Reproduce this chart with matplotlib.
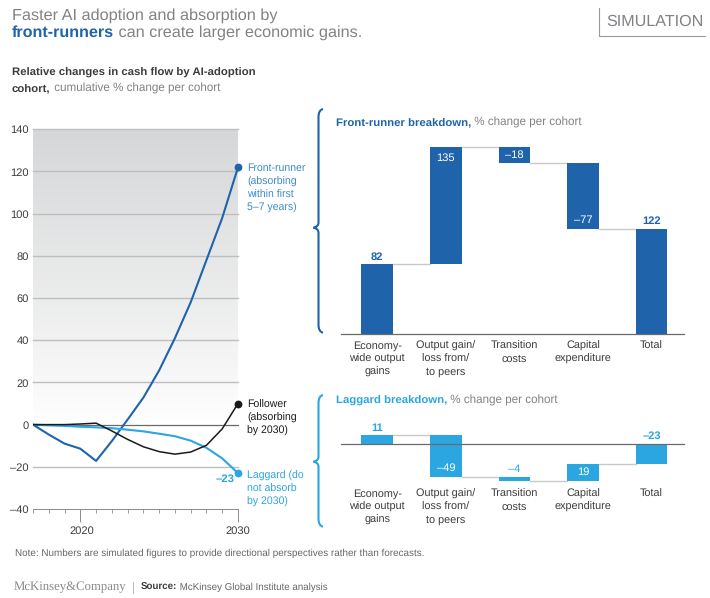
import numpy as np
import matplotlib
matplotlib.use('Agg')
import matplotlib.pyplot as plt
from matplotlib.path import Path
from matplotlib.patches import PathPatch

plt.rcParams['font.family'] = ['Liberation Sans', 'DejaVu Sans']
plt.rcParams['text.hinting'] = 'no_hinting'
plt.rcParams['text.hinting_factor'] = 8

# line chart data
years = [2017, 2018, 2019, 2020, 2021, 2022, 2023, 2024, 2025, 2026, 2027, 2028, 2029, 2030]
front_runner = [0, -4.7, -9, -11.4, -17.2, -7.8, 2.4, 12.8, 25.7, 41, 58, 78, 98, 122]
follower = [0, 0, 0, 0.3, 0.7, -3, -7, -10.5, -12.8, -14, -13, -9.8, -2, 10]
laggard = [0, -0.3, -0.6, -1, -1.3, -1.7, -2.4, -3.2, -4.3, -5.5, -7.6, -11, -16, -23]
yticks = [-40, -20, 0, 20, 40, 60, 80, 100, 120, 140]

# waterfall data
labels = ['Economy-\nwide output\ngains', 'Output gain/\nloss from/\nto peers',
          'Transition\ncosts', 'Capital\nexpenditure', 'Total']
front_steps = [82, 135, -18, -77]
front_total = 122
lag_steps = [11, -49, -4, 19]
lag_total = -23

DARK = '#1f63ab'
LIGHT = '#2ba6e0'
MID = '#3d8bcb'
GREY = '#808285'
TXT = '#3c3c3c'
W, H = 710, 598

fig = plt.figure(figsize=(W / 100, H / 100), dpi=100)


def axes_px(x0, y0, x1, y1):
    # pixel box, y measured from the top of the image
    return fig.add_axes([x0 / W, 1 - y1 / H, (x1 - x0) / W, (y1 - y0) / H])


# overlay for all the loose text and braces
bg = axes_px(0, 0, W, H)
bg.set_xlim(0, W)
bg.set_ylim(H, 0)
bg.axis('off')


def runs(x, y, parts):
    # text in several colours/weights/sizes on one line
    r = fig.canvas.get_renderer()
    for s, c, w, size in parts:
        t = bg.text(x, y, s, color=c, fontweight=w, fontsize=size, va='baseline', ha='left')
        x += t.get_window_extent(r).width


def brace(ytop, ytip, ybot, col):
    xs, xt = 318.5, 313.5
    verts = [(323, ytop), (318.5, ytop + 1), (xs, ytop + 8),
             (xs, ytip - 5), (xs, ytip - 1), (xt, ytip),
             (xs, ytip + 1), (xs, ytip + 5),
             (xs, ybot - 8), (318.5, ybot - 1), (323, ybot)]
    codes = [Path.MOVETO, Path.CURVE3, Path.CURVE3, Path.LINETO, Path.CURVE3, Path.CURVE3,
             Path.CURVE3, Path.CURVE3, Path.LINETO, Path.CURVE3, Path.CURVE3]
    bg.add_patch(PathPatch(Path(verts, codes), fc='none', ec=col, lw=1.5))


# header
runs(12, 20, [('Faster AI adoption and absorption by', GREY, 'normal', 11.7)])
runs(12, 37, [('front-runners', DARK, 'bold', 11.6), (' can create larger economic gains.', GREY, 'normal', 11.7)])
bg.text(606.5, 26, 'SIMULATION', color=GREY, fontsize=11.6, va='baseline')
bg.plot([599, 599, 705], [8, 36, 36], color='#9a9a9a', lw=0.8)
runs(12, 76, [('Relative changes in cash flow by AI-adoption', TXT, 'bold', 8.2)])
runs(12, 92, [('cohort,', TXT, 'bold', 8.2), (' cumulative % change per cohort', GREY, 'normal', 8.4)])

# line chart
ax = axes_px(33, 129.3, 238, 509)
shade = np.linspace(0, 1, 200).reshape(-1, 1) ** 0.9
ax.imshow(shade, extent=[2017, 2030, 0, 140], origin='lower', aspect='auto',
          cmap=matplotlib.colors.LinearSegmentedColormap.from_list('s', ['#ffffff', '#d6d7d8']), zorder=0)
ax.set_xlim(2017, 2030)
ax.set_ylim(-40, 140)
for s in ['top', 'right', 'left']:
    ax.spines[s].set_visible(False)
ax.spines['bottom'].set_color('#8a8a8a')
ax.spines['bottom'].set_linewidth(0.7)
ax.patch.set_alpha(0)
for v in yticks:
    if v == -40:
        continue
    ax.axhline(v, color='#6a6a6a' if v == 0 else '#bdbebf', lw=0.9 if v == 0 else 1.0, zorder=1, clip_on=False)
ax.set_yticks(yticks, [str(v).replace('-', '\u2013') for v in yticks])
ax.tick_params(axis='y', length=0, pad=3, labelsize=8, labelcolor=TXT)
ax.set_xticks(years, minor=True)
ax.set_xticks([2020, 2030], ['', ''])
ax.tick_params(axis='x', which='major', length=9, direction='out', color='#8a8a8a', width=0.7)
ax.tick_params(axis='x', which='minor', direction='out', length=3, color='#8a8a8a', width=0.6)
for v, c, lw in [(front_runner, DARK, 1.5), (laggard, LIGHT, 1.5), (follower, '#1a1a1a', 1.1)]:
    ax.plot(years, v, color=c, lw=lw, zorder=3)
    ax.plot(years[-1], v[-1], 'o', color=c, ms=4.6, zorder=4, clip_on=False)
bg.text(82, 531, '2020', ha='center', va='center', fontsize=8, color=TXT)
bg.text(238, 531, '2030', ha='center', va='center', fontsize=8, color=TXT)
bg.text(219, 162, '122', color=DARK, ha='center', va='center', fontsize=8.2, fontweight='bold')
bg.text(228, 396, '10', color='#1a1a1a', ha='center', va='center', fontsize=8.2, fontweight='bold')
bg.text(225, 479, '\u201323', color=LIGHT, ha='center', va='center', fontsize=8.2, fontweight='bold')
bg.text(247, 163, 'Front-runner\n(absorbing\nwithin first\n5\u20137 years)', color=MID, fontsize=7.6,
        va='top', linespacing=1.38)
bg.text(247, 399.5, 'Follower\n(absorbing\nby 2030)', color='#1a1a1a', fontsize=7.6, va='top', linespacing=1.38)
bg.text(247, 470.5, 'Laggard (do\nnot absorb\nby 2030)', color=LIGHT, fontsize=7.6, va='top', linespacing=1.38)

brace(109, 227.7, 332.7, DARK)
brace(395, 461.7, 526.7, LIGHT)


def waterfall(box, ylim, steps, total, col):
    a = axes_px(*box)
    a.set_xlim(-0.523, 4.472)
    a.set_ylim(*ylim)
    a.axis('off')
    a.patch.set_alpha(0)
    level = 0
    for i, s in enumerate(steps):
        a.bar(i, s, bottom=level, width=0.463, color=col, zorder=2)
        new = level + s
        a.plot([i + 0.23, i + 1 - 0.23], [new, new], color='#c9c9c9', lw=1.0, zorder=1, clip_on=False)
        level = new
    a.bar(4, total, width=0.463, color=col, zorder=2)
    a.axhline(0, color='#6a6a6a', lw=0.9, zorder=3, clip_on=False)
    return a


fr = waterfall((341.3, 147, 684, 334.3), (0, 217), front_steps, front_total, DARK)
vk = dict(ha='center', va='center', fontsize=8)
top = dict(fontweight='bold', va='bottom', ha='center', fontsize=8)
fr.text(0, 84, '82', color=DARK, **top)
fr.text(1, 204, '135', color='white', **vk)
fr.text(2, 208, '\u201318', color='white', **vk)
fr.text(3, 132, '\u201377', color='white', **vk)
fr.text(4, 125, '122', color=DARK, **top)

lg = waterfall((341.3, 434.7, 684, 480.7), (-42, 11), lag_steps, lag_total, LIGHT)
lg.text(0, 12.5, '11', color=LIGHT, **top)
lg.text(1, -27, '\u201349', color='white', **vk)
lg.text(2, -35, '\u20134', color=LIGHT, va='bottom', ha='center', fontsize=8)
lg.text(3, -32, '19', color='white', **vk)
lg.text(4, 4, '\u201323', color=LIGHT, **top)

for i, s in enumerate(labels):
    cx = 377.2 + 68.6 * i
    bg.text(cx, 341, s, ha='center', va='top', fontsize=7.8, color=TXT, linespacing=1.36)
    bg.text(cx, 489, s, ha='center', va='top', fontsize=7.8, color=TXT, linespacing=1.36)

runs(336, 126, [('Front-runner breakdown,', DARK, 'bold', 8.2), (' % change per cohort', GREY, 'normal', 8.4)])
runs(336, 404, [('Laggard breakdown,', LIGHT, 'bold', 8.2), (' % change per cohort', GREY, 'normal', 8.4)])

# footer
bg.text(15, 556, 'Note: Numbers are simulated figures to provide directional perspectives rather than forecasts.',
        fontsize=7.15, color='#666666', va='baseline')
bg.text(14, 590, 'McKinsey&Company', family=['Liberation Serif'], fontsize=9.2, color='#8a8a8a', va='baseline')
bg.plot([133, 133], [582, 593], color='#aaaaaa', lw=0.6)
runs(141, 590, [('Source:', TXT, 'bold', 7.05), (' McKinsey Global Institute analysis', '#666666', 'normal', 7.05)])

fig.savefig('out.png', dpi=100)
